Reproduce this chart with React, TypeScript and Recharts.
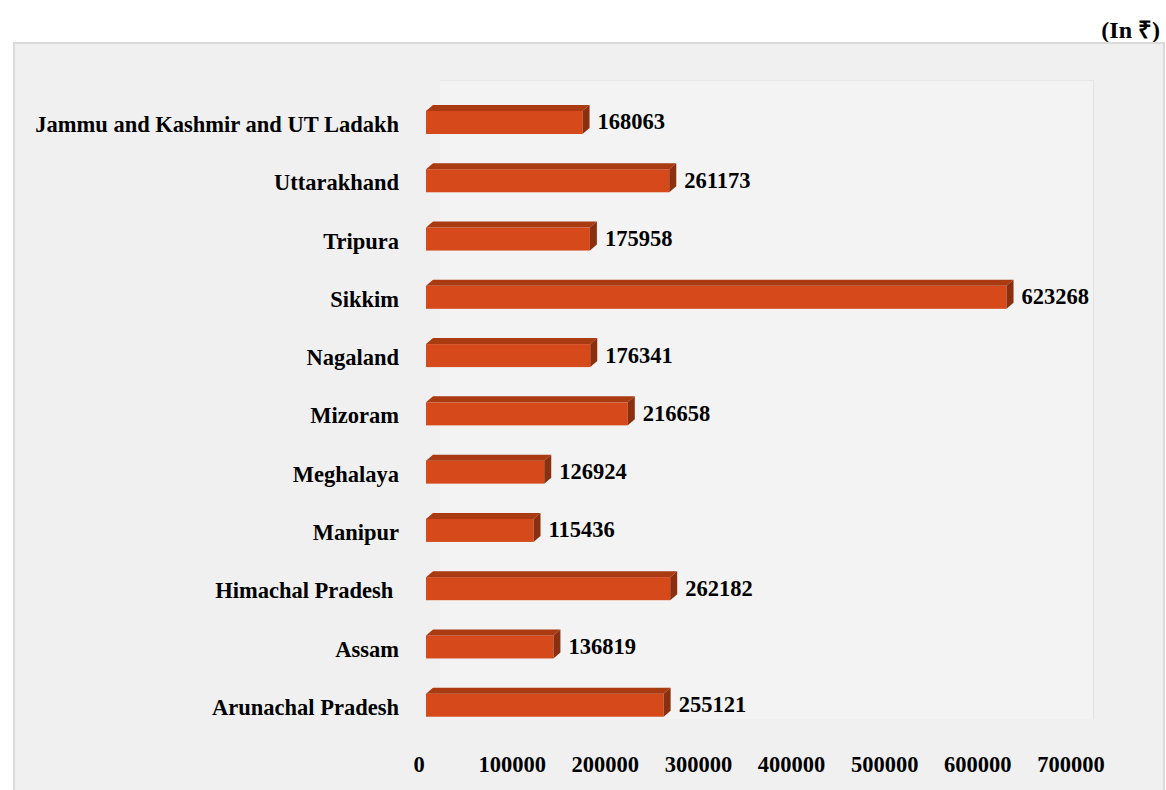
import React from "react";
import { BarChart, Bar, XAxis, YAxis, LabelList } from "recharts";

const states = [
  "Jammu and Kashmir and UT Ladakh",
  "Uttarakhand",
  "Tripura",
  "Sikkim",
  "Nagaland",
  "Mizoram",
  "Meghalaya",
  "Manipur",
  "Himachal Pradesh\u00a0",
  "Assam",
  "Arunachal Pradesh",
];
const perCapita = [168063, 261173, 175958, 623268, 176341, 216658, 126924, 115436, 262182, 136819, 255121];
const xTicks = [0, 100000, 200000, 300000, 400000, 500000, 600000, 700000];

const data = states.map((s, i) => ({ state: s, value: perCapita[i] }));

const FONT = "'Liberation Serif', 'Times New Roman', serif";
const FS = 22.5;
const DEPTH_X = 7;
const DEPTH_Y = 6;

// fake 3D box: front face, top face, right face
function Box3D(props: any) {
  const { x, y, width, height } = props;
  if (!width || width <= 0) return null;
  const fy = y + DEPTH_Y;
  const fh = height - DEPTH_Y;
  return (
    <g>
      <rect x={x} y={fy} width={width} height={fh} fill="#d5491a" />
      <polygon
        points={`${x},${fy} ${x + DEPTH_X},${y} ${x + width + DEPTH_X},${y} ${x + width},${fy}`}
        fill="#a93a12"
      />
      <polygon
        points={`${x + width},${fy} ${x + width + DEPTH_X},${y} ${x + width + DEPTH_X},${y + fh} ${x + width},${fy + fh}`}
        fill="#8c2f0e"
      />
    </g>
  );
}

export default function App() {
  return (
    <div style={{ position: "absolute", left: 0, top: 0, width: 1166, height: 790, background: "#fff", overflow: "hidden" }}>
      <div
        style={{
          position: "absolute", right: 6, top: 16, fontFamily: FONT, fontWeight: "bold",
          fontSize: 24, lineHeight: "28px", color: "#000",
        }}
      >
        (In ₹)
      </div>
      <div
        style={{
          position: "absolute", left: 13, top: 42, width: 1148, height: 770,
          background: "#f0f0f0", border: "2px solid #dadada",
        }}
      />
      <div
        style={{
          position: "absolute", left: 440, top: 80, width: 653, height: 638,
          background: "#f3f3f3", borderTop: "1px solid #e6e6e6", borderRight: "1px solid #e2e2e2",
        }}
      />
      <div style={{ position: "absolute", left: 0, top: 0 }}>
        <BarChart
          width={1166}
          height={790}
          data={data}
          layout="vertical"
          margin={{ top: 90, right: 88, bottom: 0, left: 0 }}
          barCategoryGap={0}
        >
          <XAxis
            type="number"
            domain={[0, 700000]}
            ticks={xTicks}
            axisLine={false}
            tickLine={false}
            tickSize={0}
            tickMargin={25}
            height={59}
            interval={0}
            tick={{ fontFamily: FONT, fontWeight: "bold", fontSize: FS, fill: "#000", dx: -7 }}
          />
          <YAxis
            type="category"
            dataKey="state"
            width={426}
            axisLine={false}
            tickLine={false}
            tickSize={0}
            tickMargin={27}
            interval={0}
            tick={{ fontFamily: FONT, fontWeight: "bold", fontSize: FS, fill: "#000", dy: 5 }}
          />
          <Bar dataKey="value" barSize={29} shape={<Box3D />} isAnimationActive={false}>
            <LabelList
              dataKey="value"
              position="right"
              offset={15}
              style={{ fontFamily: FONT, fontWeight: "bold", fontSize: FS, fill: "#000" }}
              dy={2}
            />
          </Bar>
        </BarChart>
      </div>
    </div>
  );
}
